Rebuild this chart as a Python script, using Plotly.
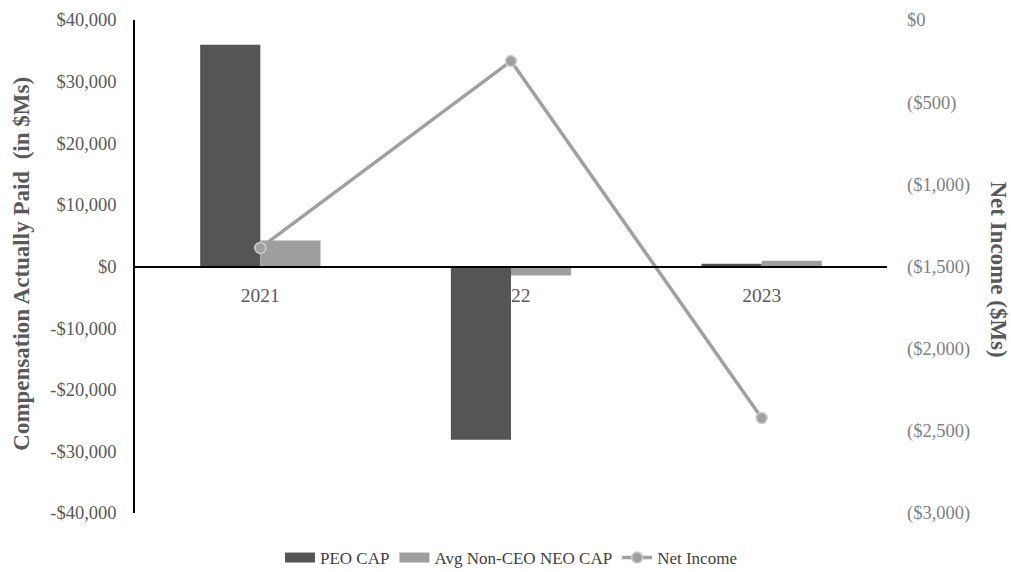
import plotly.graph_objects as go

years = ["2021", "2022", "2023"]
peo_cap = [36000, -28100, 450]
avg_neo_cap = [4200, -1450, 950]
net_income = [-1387, -250, -2422]

left_ticks = [40000, 30000, 20000, 10000, 0, -10000, -20000, -30000, -40000]
left_labels = ["$40,000", "$30,000", "$20,000", "$10,000", "$0", "-$10,000", "-$20,000", "-$30,000", "-$40,000"]
right_ticks = [0, -500, -1000, -1500, -2000, -2500, -3000]
right_labels = ["$0", "($500)", "($1,000)", "($1,500)", "($2,000)", "($2,500)", "($3,000)"]

FONT = "Liberation Serif"
PEO_COLOR = "#555555"
AVG_COLOR = "#9e9e9e"
NI_COLOR = "#a0a0a0"

fig = go.Figure()
fig.add_trace(go.Bar(x=years, y=peo_cap, name="PEO CAP", marker=dict(color=PEO_COLOR, line=dict(width=0)),
                     showlegend=False))
fig.add_trace(go.Bar(x=years, y=avg_neo_cap, name="Avg Non-CEO NEO CAP", marker=dict(color=AVG_COLOR, line=dict(width=0)),
                     showlegend=False))
fig.add_trace(go.Scatter(x=years, y=net_income, name="Net Income", yaxis="y2", mode="lines+markers",
                         line=dict(color=NI_COLOR, width=3.5),
                         marker=dict(size=11, color=NI_COLOR, line=dict(color="#cfcfcf", width=1.5)),
                         showlegend=False))
# legend entries (wide rectangular swatches like the original)
fig.add_trace(go.Scatter(x=[None], y=[None], mode="lines", name="PEO CAP", line=dict(color=PEO_COLOR, width=12)))
fig.add_trace(go.Scatter(x=[None], y=[None], mode="lines", name="Avg Non-CEO NEO CAP", line=dict(color=AVG_COLOR, width=12)))
fig.add_trace(go.Scatter(x=[None], y=[None], mode="lines+markers", name="Net Income",
                         line=dict(color=NI_COLOR, width=3.5),
                         marker=dict(size=11, color=NI_COLOR, line=dict(color="#cfcfcf", width=1.5))))

fig.update_layout(
    width=1011, height=572,
    margin=dict(l=135, r=124, t=20, b=59, autoexpand=False),
    paper_bgcolor="white", plot_bgcolor="white",
    font=dict(family=FONT, size=19, color="#595959"),
    barmode="group", bargap=0.52, bargroupgap=0,
    showlegend=True,
    legend=dict(orientation="h", x=0.5, xanchor="center", yref="container", y=0.0245, yanchor="middle",
                font=dict(family=FONT, size=17, color="#404040"), traceorder="normal",
                tracegroupgap=0),
    xaxis=dict(type="category", anchor="free", position=0.5, showline=True, linecolor="black", linewidth=1.5,
               ticks="", showgrid=False, zeroline=False, ticklabelstandoff=11,
               tickfont=dict(family=FONT, size=19.5, color="#595959")),
    yaxis=dict(range=[-40000, 40000], tickvals=left_ticks, ticktext=left_labels, showgrid=False, zeroline=False,
               showline=True, linecolor="black", linewidth=1.5, ticks="", ticklabelstandoff=13,
               tickfont=dict(family=FONT, size=18.5, color="#595959")),
    yaxis2=dict(range=[-3000, 0], tickvals=right_ticks, ticktext=right_labels, overlaying="y", side="right",
                showgrid=False, zeroline=False, showline=False, ticks="", ticklabelstandoff=19,
                tickfont=dict(family=FONT, size=18.5, color="#808080")),
    annotations=[
        dict(text="<b>Compensation Actually Paid  (in $Ms)</b>", xref="paper", yref="paper", x=-0.152, y=0.505,
             xanchor="center", yanchor="middle", textangle=-90, showarrow=False,
             font=dict(family=FONT, size=23, color="#595959")),
        dict(text="<b>Net Income ($Ms)</b>", xref="paper", yref="paper", x=1.147, y=0.495,
             xanchor="center", yanchor="middle", textangle=90, showarrow=False,
             font=dict(family=FONT, size=23, color="#595959")),
    ],
)

fig.write_html("out.html")
